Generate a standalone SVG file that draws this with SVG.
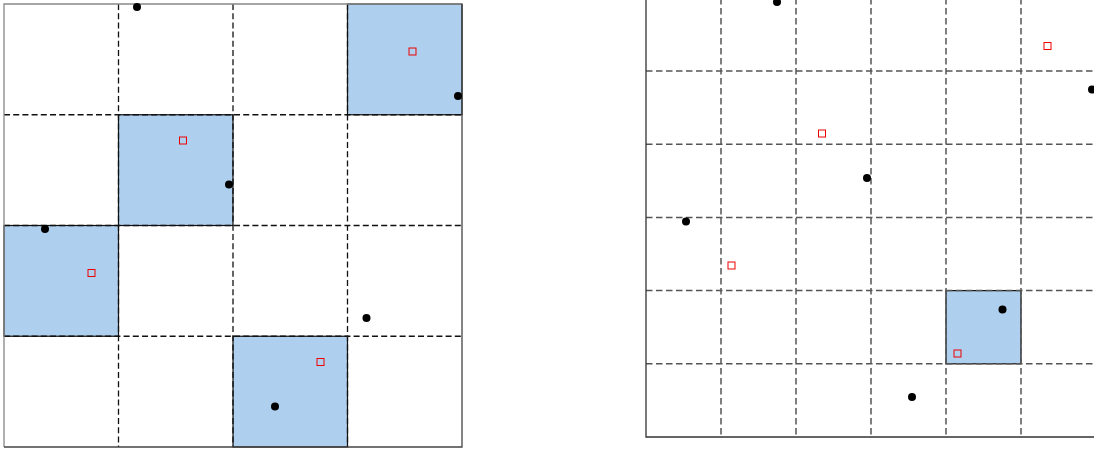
<svg xmlns="http://www.w3.org/2000/svg" width="1094" height="451" viewBox="0 0 1094 451">
<style>
.cell{fill:#aed0ee;stroke:#111;stroke-width:1.2}
.gl{stroke:#111;stroke-width:1.3;stroke-dasharray:6,3.2;fill:none}
.gr{stroke:#555;stroke-width:1.5;stroke-dasharray:6.5,3.5;fill:none}
.dot{fill:#000}
.sq{fill:none;stroke:#e00;stroke-width:1}
</style>
<rect width="1094" height="451" fill="#fff"/>
<g id="left-panel">
  <g id="left-cells">
    <rect class="cell" x="347.5" y="4" width="114.5" height="110.75"/>
    <rect class="cell" x="118.5" y="114.75" width="114.5" height="110.75"/>
    <rect class="cell" x="4" y="225.5" width="114.5" height="110.75"/>
    <rect class="cell" x="233" y="336.25" width="114.5" height="110.75"/>
  </g>
  <g id="left-grid">
    <path class="gl" d="M118.5,4V447M233,4V447M347.5,4V447M4,114.75H462M4,225.5H462M4,336.25H462"/>
  </g>
  <path d="M4,447V4H462" fill="none" stroke="#888" stroke-width="1.3"/>
  <path d="M4,447H462V4" fill="none" stroke="#444" stroke-width="1.3"/>
  <g id="left-points">
    <circle class="dot" cx="137" cy="7" r="4"/>
    <circle class="dot" cx="458" cy="96" r="4"/>
    <circle class="dot" cx="229" cy="184.5" r="4"/>
    <circle class="dot" cx="45" cy="229" r="4"/>
    <circle class="dot" cx="366.5" cy="318" r="4"/>
    <circle class="dot" cx="275" cy="406.5" r="4"/>
    <rect class="sq" x="409" y="48" width="7" height="7"/>
    <rect class="sq" x="179.5" y="137" width="7" height="7"/>
    <rect class="sq" x="88" y="269.5" width="7" height="7"/>
    <rect class="sq" x="317" y="358.5" width="7" height="7"/>
  </g>
</g>
<g id="right-panel">
  <g id="right-cells">
    <rect class="cell" x="946" y="290.6" width="75" height="73.2"/>
  </g>
  <g id="right-grid">
    <path class="gr" d="M721,-2V437M796,-2V437M871,-2V437M946,-2V437M1021,-2V437M646,71H1096M646,144.2H1096M646,217.4H1096M646,290.6H1096M646,363.8H1096"/>
  </g>
  <path d="M646,-2V437H1096" fill="none" stroke="#333" stroke-width="1.3"/>
  <g id="right-points">
    <circle class="dot" cx="777" cy="2" r="4"/>
    <circle class="dot" cx="1092" cy="89.5" r="4"/>
    <circle class="dot" cx="867" cy="178" r="4"/>
    <circle class="dot" cx="686" cy="221.5" r="4"/>
    <circle class="dot" cx="1002.5" cy="309.5" r="4"/>
    <circle class="dot" cx="912" cy="397" r="4"/>
    <rect class="sq" x="1044" y="42.5" width="7" height="7"/>
    <rect class="sq" x="818.5" y="130" width="7" height="7"/>
    <rect class="sq" x="728" y="262" width="7" height="7"/>
    <rect class="sq" x="954" y="350" width="7" height="7"/>
  </g>
</g>
</svg>
